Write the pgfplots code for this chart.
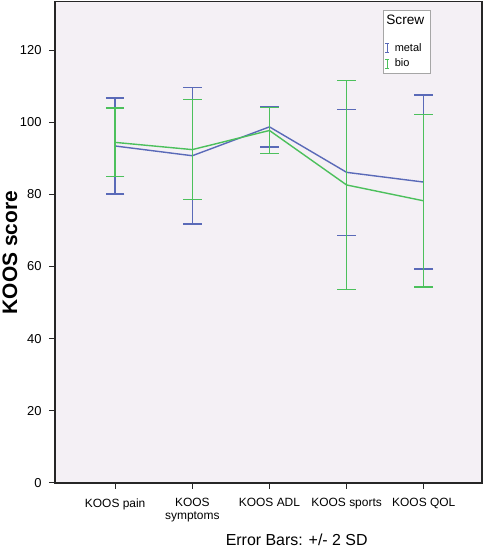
\documentclass[border=0pt]{standalone}
\usepackage{pgfplots}
\pgfplotsset{compat=1.18}
\usepackage{pgfplotstable}
\usepackage{fontspec}
\setmainfont{Liberation Sans}
\definecolor{metalc}{RGB}{90,106,184}
\definecolor{bioc}{RGB}{76,192,92}
\definecolor{bgc}{RGB}{244,240,245}
\pgfplotstableread{
x y e
0 93.4 13.3
1 90.7 18.9
2 98.7 5.6
3 86.1 17.5
4 83.4 24.1
}\metal
\pgfplotstableread{
x y e
0 94.4 9.5
1 92.4 13.8
2 97.7 6.4
3 82.6 29.0
4 78.2 23.9
}\bio
\begin{document}
\begin{tikzpicture}
\path[use as bounding box] (0,0) rectangle (484bp,547bp);
\begin{axis}[
  at={(55bp,64bp)}, anchor=south west,
  scale only axis, width=427bp, height=481.5bp,
  xmin=-0.78, xmax=4.755, ymin=0, ymax=133.45,
  axis background/.style={fill=bgc},
  axis line style={draw=black!85, line width=1.3bp},
  xtick={0,1,2,3,4},
  xticklabels={KOOS pain, KOOS\\symptoms, KOOS ADL, KOOS sports, KOOS QOL},
  xticklabel style={align=center, font=\fontsize{12}{12.3}\selectfont, yshift=-6bp},
  ytick={0,20,40,60,80,100,120},
  yticklabel style={font=\fontsize{13}{14}\selectfont, xshift=-4bp},
  /pgf/number format/assume math mode=true,
  tick pos=left, tick align=outside, major tick length=6bp,
  tick style={black!85, line width=1bp},
  legend style={at={(rel axis cs:0.772,0.9155)}, anchor=north west,
    draw=none, fill=none,
    font=\fontsize{11}{12}\selectfont, inner xsep=0bp, inner ysep=0bp,
    nodes={inner sep=1bp}, column sep=4bp, row sep=4bp},
  legend cell align=left,
]
\draw[gray!70, fill=white, line width=0.7bp] (rel axis cs:0.769,0.982) rectangle (rel axis cs:0.878,0.8515);
\node[anchor=west, inner sep=0pt, font=\fontsize{13.7}{14}\selectfont] at (rel axis cs:0.7755,0.9616) {Screw};
\addplot[metalc, line width=1.4bp, mark=none,
  legend image code/.code={
    \draw[metalc, line width=0.9bp] (2bp,-4.5bp) -- (2bp,4.5bp);
    \draw[metalc, line width=0.9bp] (0bp,-4.5bp) -- (4bp,-4.5bp);
    \draw[metalc, line width=0.9bp] (0bp,4.5bp) -- (4bp,4.5bp);},
  error bars/.cd, y dir=both, y explicit,
  error bar style={line width=1.4bp, metalc},
  error mark options={metalc, mark size=9.3bp, line width=1.3bp, rotate=90},
  ] table[x=x, y=y, y error=e] {\metal};
\addlegendentry{metal}
\addplot[bioc, line width=1.4bp, mark=none,
  legend image code/.code={
    \draw[bioc, line width=0.9bp] (2bp,-4.5bp) -- (2bp,4.5bp);
    \draw[bioc, line width=0.9bp] (0bp,-4.5bp) -- (4bp,-4.5bp);
    \draw[bioc, line width=0.9bp] (0bp,4.5bp) -- (4bp,4.5bp);},
  error bars/.cd, y dir=both, y explicit,
  error bar style={line width=1.4bp, bioc},
  error mark options={bioc, mark size=9.3bp, line width=1.3bp, rotate=90},
  ] table[x=x, y=y, y error=e] {\bio};
\addlegendentry{bio}
\end{axis}
\node[rotate=90, font=\bfseries\fontsize{21}{22}\selectfont] at (10bp,294.5bp) {KOOS score};
\node[font=\fontsize{16}{17}\selectfont] at (296.7bp,7.5bp) {Error Bars: +/- 2 SD};
\end{tikzpicture}
\end{document}
